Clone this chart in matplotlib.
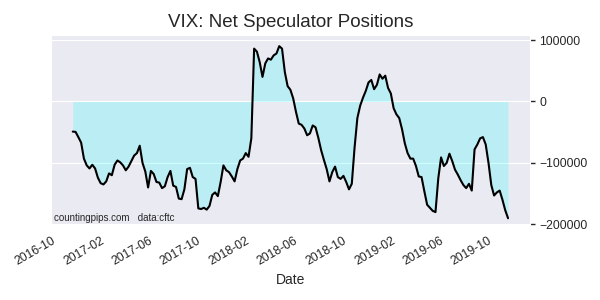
import matplotlib
matplotlib.use("Agg")
import matplotlib.pyplot as plt
import matplotlib.dates as mdates
import seaborn as sns
import pandas as pd

# weekly CFTC net positions, VIX futures (in contracts)
start_date = "2016-11-08"
net_positions = [
    -49000, -49500, -58000, -67000, -93000, -104000, -109000, -103000, -109000, -124000,
    -133000, -135000, -130000, -117000, -120000, -103000, -96000, -99000, -104000, -112000,
    -106000, -97000, -88000, -84000, -72000, -100000, -114000, -140000, -113000, -118000,
    -131000, -132000, -141000, -138000, -123000, -113000, -137000, -139000, -158000, -159000,
    -143000, -110000, -108000, -123000, -126000, -174000, -175000, -173000, -176000, -170000,
    -152000, -148000, -154000, -131000, -104000, -112000, -115000, -122000, -130000, -110000,
    -96000, -93000, -84000, -90000, -60000, 86000, 81000, 64000, 40000, 62000,
    70000, 68000, 75000, 78000, 90000, 86000, 48000, 25000, 19000, 5000,
    -17000, -36000, -38000, -44000, -55000, -52000, -39000, -42000, -59000, -79000,
    -95000, -110000, -130000, -115000, -106000, -123000, -126000, -121000, -131000, -143000,
    -134000, -75000, -27000, -7000, 6000, 17000, 31000, 35000, 20000, 27000,
    44000, 37000, 42000, 22000, 13000, -11000, -21000, -27000, -45000, -68000,
    -84000, -93000, -93000, -105000, -122000, -123000, -146000, -168000, -173000, -178000,
    -180000, -125000, -91000, -105000, -100000, -85000, -97000, -111000, -119000, -128000,
    -136000, -141000, -134000, -145000, -78000, -70000, -60000, -58000, -70000, -100000,
    -136000, -153000, -148000, -145000, -160000, -177000, -190000,
]
dates = pd.date_range(start_date, periods=len(net_positions), freq="7D")

sns.set_style("darkgrid")
plt.rcParams["font.family"] = ["Liberation Sans", "DejaVu Sans"]

fig = plt.figure(figsize=(6, 3), dpi=100)
ax = fig.add_axes([0.085, 0.25, 0.798, 0.633])

ax.fill_between(dates, net_positions, 0, color="cyan", alpha=0.2, linewidth=0)
ax.plot(dates, net_positions, color="black", linewidth=1.5)

ax.yaxis.tick_right()
ax.tick_params(axis="y", right=True, length=3.5, width=1, color=".15",
               labelsize=8.8)
ax.tick_params(axis="x", labelsize=8.8)
ax.set_ylim(-201000, 108000)
ax.set_yticks([-200000, -100000, 0, 100000])
ax.xaxis.grid(False)

ax.xaxis.set_major_locator(mdates.MonthLocator(bymonth=[2, 6, 10]))
ax.xaxis.set_major_formatter(mdates.DateFormatter("%Y-%m"))
for lbl in ax.get_xticklabels():
    lbl.set_rotation(30)
    lbl.set_ha("right")

ax.set_title("VIX: Net Speculator Positions", fontsize=13.5)
ax.set_xlabel("Date", fontsize=10)
ax.text(0.006, 0.012, "countingpips.com   data:cftc", transform=ax.transAxes,
        fontsize=7, va="bottom", ha="left")

fig.savefig("out.png", dpi=100)
